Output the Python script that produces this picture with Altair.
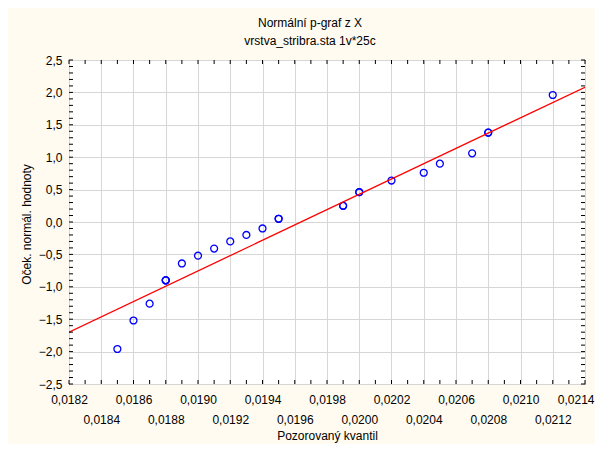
import altair as alt
import pandas as pd

obs = [0.0185, 0.0186, 0.0187, 0.0188, 0.0188, 0.0188, 0.0189, 0.0190, 0.0191,
       0.0192, 0.0193, 0.0194, 0.0195, 0.0195, 0.0199, 0.0199, 0.0200, 0.0200,
       0.0202, 0.0204, 0.0205, 0.0207, 0.0208, 0.0208, 0.0212]
expz = [-1.96, -1.52, -1.26, -0.90, -0.90, -0.90, -0.64, -0.52, -0.41,
        -0.30, -0.20, -0.10, 0.05, 0.05, 0.25, 0.25, 0.46, 0.46,
        0.64, 0.76, 0.90, 1.06, 1.38, 1.38, 1.96]

# Fitted line end points
line_x = [0.0182, 0.0214]
line_y = [-1.70, 2.08]

# Axis ticks
x_major = [round(0.0182 + 0.0002 * i, 4) for i in range(17)]
y_major = [round(-2.5 + 0.5 * i, 1) for i in range(11)]
x_minor = [round(0.0182 + 0.0001 * i, 4) for i in range(33)]
y_minor = [round(-2.5 + 0.1 * i, 1) for i in range(51)]

W, H = 516, 324
FONT = "Liberation Sans"

pts = pd.DataFrame({"x": obs, "y": expz})
ln = pd.DataFrame({"x": line_x, "y": line_y})
xt = pd.DataFrame({"x": x_minor})
yt = pd.DataFrame({"y": y_minor})

xscale = alt.Scale(domain=[0.0182, 0.0214], nice=False, zero=False)
yscale = alt.Scale(domain=[-2.5, 2.5], nice=False, zero=False)

xaxis = alt.Axis(
    values=x_major, title="Pozorovaný kvantil", grid=True, ticks=False, domain=False,
    labelExpr="round(datum.value*10000) % 4 == 2 ? replace(format(datum.value,'.4f'),'.',',') : ['', replace(format(datum.value,'.4f'),'.',',')]",
    labelOverlap=False, labelFlush=False, labelPadding=10, labelLineHeight=20,
    labelAlign=alt.ExprRef(expr="datum.value > 0.02135 ? 'right' : 'center'"),
    labelOffset=alt.ExprRef(expr="datum.value > 0.02135 ? 9 : 0"),
    titleY=46, tickCount=17,
)
yaxis = alt.Axis(
    values=y_major, title="Oček. normál. hodnoty", grid=True, ticks=False, domain=False,
    labelExpr="replace(format(datum.value,'.1f'),'.',',')",
    labelOverlap=False, labelFlush=False, labelPadding=7,
    titleX=-36, titleY=164, tickCount=11,
)

X = alt.X("x:Q", scale=xscale, axis=xaxis)
Y = alt.Y("y:Q", scale=yscale, axis=yaxis)

points = alt.Chart(pts).mark_point(
    shape="circle", filled=False, color="#0000ff", size=48, strokeWidth=1.3, opacity=1
).encode(x=X, y=Y)

line = alt.Chart(ln).mark_line(color="#ff0000", strokeWidth=1.3, clip=True).encode(x=X, y=Y)

top_t = alt.Chart(xt).mark_rule(color="black", strokeWidth=1).encode(
    x=X, y=alt.value(0), y2=alt.value(4))
bot_t = alt.Chart(xt).mark_rule(color="black", strokeWidth=1).encode(
    x=X, y=alt.value(H), y2=alt.value(H - 4))
left_t = alt.Chart(yt).mark_rule(color="black", strokeWidth=1).encode(
    y=Y, x=alt.value(0), x2=alt.value(4))
right_t = alt.Chart(yt).mark_rule(color="black", strokeWidth=1).encode(
    y=Y, x=alt.value(W), x2=alt.value(W - 4))

chart = alt.layer(points, line, top_t, bot_t, left_t, right_t).properties(
    width=W, height=H,
    title=alt.TitleParams(
        text="Normální p-graf z X", subtitle="vrstva_stribra.sta 1v*25c",
        font=FONT, fontSize=12, fontWeight="normal", color="black",
        subtitleFont=FONT, subtitleFontSize=12, subtitleColor="black",
        subtitlePadding=6, offset=6, dx=-17, anchor="middle",
    ),
    padding={"left": 61, "top": 52, "right": 10, "bottom": 60},
    autosize=alt.AutoSizeParams(type="none"),
    background="#fffbf0",
).configure_view(
    fill="white", stroke="black", strokeWidth=1
).configure_axis(
    labelFont=FONT, labelFontSize=12, labelColor="black",
    titleFont=FONT, titleFontSize=12, titleFontWeight="normal", titleColor="black",
    gridColor="#d6d6d6", gridWidth=1,
)

chart.save("out.html", embed_options={"renderer": "svg", "actions": False})
